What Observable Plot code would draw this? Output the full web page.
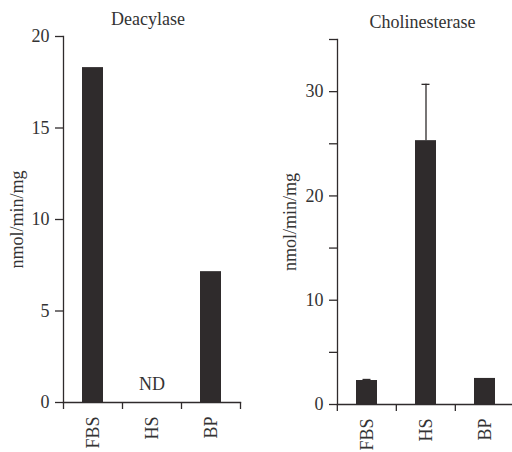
<!DOCTYPE html>
<html><head><meta charset="utf-8">
<script src="https://cdn.jsdelivr.net/npm/d3@7"></script>
<script src="https://cdn.jsdelivr.net/npm/@observablehq/plot@0.6"></script>
<style>
html,body{margin:0;padding:0;background:#fff;overflow:hidden}
#wrap{display:flex;width:512px;height:452px;overflow:hidden}
#wrap svg{flex:none;display:block}
</style></head><body><div id="wrap"></div>
<script>
const categories = ["FBS", "HS", "BP"];
const deacylaseValues = [18.3, null, 7.15];
const deacylaseErrors = [0, 0, 0];
const deacylaseLabels = ["", "ND", ""];
const deacylaseTicks = [0, 5, 10, 15, 20];
const deacylaseTickLabels = [0, 5, 10, 15, 20];
const cholinesteraseValues = [2.3, 25.3, 2.5];
const cholinesteraseErrors = [0.1, 5.4, 0];
const cholinesteraseLabels = ["", "", ""];
const cholinesteraseTicks = [0, 5, 10, 15, 20, 25, 30, 35];
const cholinesteraseTickLabels = [0, 10, 20, 30];
const yLabel = "nmol/min/mg";

const ink = "#2f2b2c";
const textInk = "#333";

function panel({title, values, errors, labels, ticks, tickLabels, yMax, width, marginLeft, marginRight, marginTop, marginBottom, labelDx}) {
  const rows = categories.map((c, i) => ({cat: c, v: values[i], err: errors[i], label: labels[i]}));
  const step = (width - marginLeft - marginRight) / categories.length;
  return Plot.plot({
    width, height: 452, marginLeft, marginRight, marginTop, marginBottom,
    style: {fontFamily: "'Liberation Serif', 'DejaVu Serif', serif", fontSize: "18px", color: textInk, background: "transparent", overflow: "visible"},
    x: {domain: categories, paddingInner: 0.64, paddingOuter: 0.32},
    y: {domain: [0, yMax]},
    marks: [
      Plot.barY(rows.filter(d => d.v != null), {x: "cat", y: "v", fill: ink}),
      Plot.ruleX(rows.filter(d => d.err > 0), {x: "cat", y1: "v", y2: d => d.v + d.err, stroke: ink, strokeWidth: 1.3}),
      Plot.tickY(rows.filter(d => d.err > 0), {x: "cat", y: d => d.v + d.err, stroke: ink, strokeWidth: 1.3, insetLeft: 6.5, insetRight: 6.5}),
      Plot.text(rows.filter(d => d.label), {x: "cat", y: 0, text: "label", dy: -18, fill: textInk}),
      Plot.frame({anchor: "left", stroke: ink, strokeWidth: 1.3}),
      Plot.frame({anchor: "bottom", stroke: ink, strokeWidth: 1.3}),
      Plot.axisY({ticks, tickSize: 8, tickPadding: 6, tickFormat: d => tickLabels.includes(d) ? String(d) : "", label: null, stroke: ink, strokeWidth: 1.3}),
      Plot.axisX({tickSize: 0, tickRotate: -90, tickPadding: 14, label: null}),
      Plot.ruleX(categories, {x: d => d, dx: -step / 2, y1: 0, y2: 0, insetBottom: -7, stroke: ink, strokeWidth: 1.3}),
      Plot.ruleX(categories.slice(-1), {x: d => d, dx: step / 2, y1: 0, y2: 0, insetBottom: -7, stroke: ink, strokeWidth: 1.3}),
      Plot.text([title], {frameAnchor: "top", dy: -24, dx: -4, fill: textInk}),
      Plot.text([yLabel], {frameAnchor: "left", textAnchor: "middle", rotate: -90, dx: labelDx, fill: textInk})
    ]
  });
}

const wrap = document.getElementById("wrap");
wrap.appendChild(panel({
  title: "Deacylase", values: deacylaseValues, errors: deacylaseErrors, labels: deacylaseLabels,
  ticks: deacylaseTicks, tickLabels: deacylaseTickLabels, yMax: 20,
  width: 256, marginLeft: 63, marginRight: 16, marginTop: 36, marginBottom: 50, labelDx: -46
}));
wrap.appendChild(panel({
  title: "Cholinesterase", values: cholinesteraseValues, errors: cholinesteraseErrors, labels: cholinesteraseLabels,
  ticks: cholinesteraseTicks, tickLabels: cholinesteraseTickLabels, yMax: 35,
  width: 260, marginLeft: 81, marginRight: 1, marginTop: 39, marginBottom: 48, labelDx: -47
}));
</script></body></html>
